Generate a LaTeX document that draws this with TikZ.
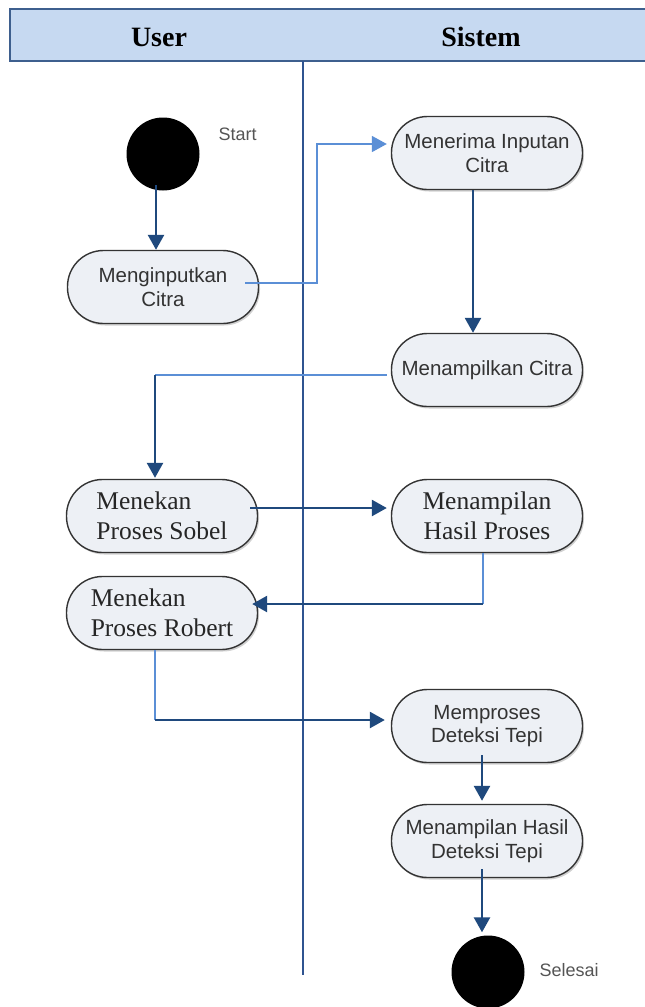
\documentclass[tikz,border=0pt]{standalone}
\usepackage{fontspec}
\setmainfont{Liberation Serif}
\newfontfamily\arialfont{Liberation Sans}
\usetikzlibrary{arrows.meta,calc,shadows}

\definecolor{hdrfill}{HTML}{C6D9F1}
\definecolor{hdrline}{HTML}{3E5F8E}
\definecolor{laneblue}{HTML}{2F5490}
\definecolor{darkflow}{HTML}{1F497D}
\definecolor{lightflow}{HTML}{5B8FD6}
\definecolor{pillfill}{HTML}{EDF0F5}
\definecolor{pillline}{HTML}{333333}
\definecolor{sanstext}{HTML}{333333}
\definecolor{labelgray}{HTML}{555555}

\tikzset{
  pill/.style={draw=pillline, line width=1.4pt, fill=pillfill,
    rectangle, rounded corners=36pt, minimum width=191pt, minimum height=73pt,
    inner sep=0pt, align=center,
    drop shadow={shadow xshift=1.5pt, shadow yshift=-2pt, opacity=0.18, fill=black}},
  sanspill/.style={pill, font=\arialfont\fontsize{20.5}{23.5}\selectfont, text=sanstext},
  serifpill/.style={pill, font=\fontsize{25.5}{30.5}\selectfont, text=black!85},
  terminal/.style={circle, fill=black, minimum size=73pt, inner sep=0pt},
  sidelabel/.style={font=\arialfont\fontsize{18}{20}\selectfont, text=labelgray},
  hdrtext/.style={font=\bfseries\fontsize{28}{30}\selectfont, text=black},
  darkarrow/.style={draw=darkflow, line width=2.6pt,
    -{Triangle[length=15pt,width=16pt]}},
  darkline/.style={draw=darkflow, line width=2.6pt},
  lightline/.style={draw=lightflow, line width=1.8pt},
  lightarrow/.style={draw=lightflow, line width=1.8pt,
    -{Triangle[length=15pt,width=16pt]}, lightflow},
}

\begin{document}
\begin{tikzpicture}[x=1pt, y=-1pt]
  \useasboundingbox (0,0) rectangle (645,1007);
  \fill[white] (0,0) rectangle (645,1007);

  % swimlane header
  \draw[draw=hdrline, line width=1.8pt, fill=hdrfill] (10,9) rectangle (660,61);
  \node[hdrtext] (userhdr) at (159,37) {User};
  \node[hdrtext] (sistemhdr) at (481,37) {Sistem};

  % lane separator
  \coordinate (lanetop) at (303,61);
  \coordinate (lanebot) at (303,975);
  \draw[draw=laneblue, line width=2pt] (lanetop) -- (lanebot);

  % activities
  \node[terminal] (start) at (163,154) {};
  \node[sidelabel, anchor=west] (startlbl) at (215,134) {Start};

  \node[sanspill] (ming) at (163,287) {Menginputkan\\Citra};
  \node[sanspill] (terima) at (487,153) {Menerima Inputan\\Citra};
  \node[sanspill] (tampil) at (487,370) {Menampilkan Citra};
  \node[serifpill, align=left] (sobel) at (162,516) {Menekan\\Proses Sobel};
  \node[serifpill] (hasil) at (487,516) {Menampilan\\Hasil Proses};
  \node[serifpill, align=left] (robert) at (162,613) {Menekan\\Proses Robert};
  \node[sanspill] (proses) at (487,726) {Memproses\\Deteksi Tepi};
  \node[sanspill] (tepi) at (487,841) {Menampilan Hasil\\Deteksi Tepi};
  \node[terminal] (finish) at (488,972) {};
  \node[sidelabel, anchor=west] (finishlbl) at (536,970) {Selesai};

  % flows
  \draw[darkarrow] ($(start.center)+(-7,31)$) -- ($(ming.north)+(-7,0)$);

  \coordinate (c1) at (317,283);
  \coordinate (c2) at (317,144);
  \draw[lightarrow] ($(ming.east)+(-14,-4)$) -- (c1) -- (c2) -- ($(terima.west)+(-4,-9)$);

  \draw[darkarrow] ($(terima.south)+(-14,0)$) -- ($(tampil.north)+(-14,0)$);

  \coordinate (c3) at (155,375);
  \draw[lightline] ($(tampil.west)+(-4,5)$) -- (c3);
  \draw[darkarrow] (c3) -- ($(sobel.north)+(-7,-1)$);

  \draw[darkarrow] ($(sobel.east)+(-8,-8)$) -- ($(hasil.west)+(-4,-8)$);

  \coordinate (c4) at (483,604);
  \draw[lightline] ($(hasil.south)+(-4,0)$) -- (c4);
  \draw[darkarrow] (c4) -- ($(robert.east)+(-6,-9)$);

  \coordinate (c5) at (155,720);
  \draw[lightline] ($(robert.south)+(-7,0)$) -- (c5);
  \draw[darkarrow] (c5) -- ($(proses.west)+(-6,-6)$);

  \draw[darkarrow] ($(proses.south)+(-5,-8)$) -- ($(tepi.north)+(-5,-3)$);
  \draw[darkarrow] ($(tepi.south)+(-5,-9)$) -- ($(finish.north)+(-6,-3)$);
\end{tikzpicture}
\end{document}
